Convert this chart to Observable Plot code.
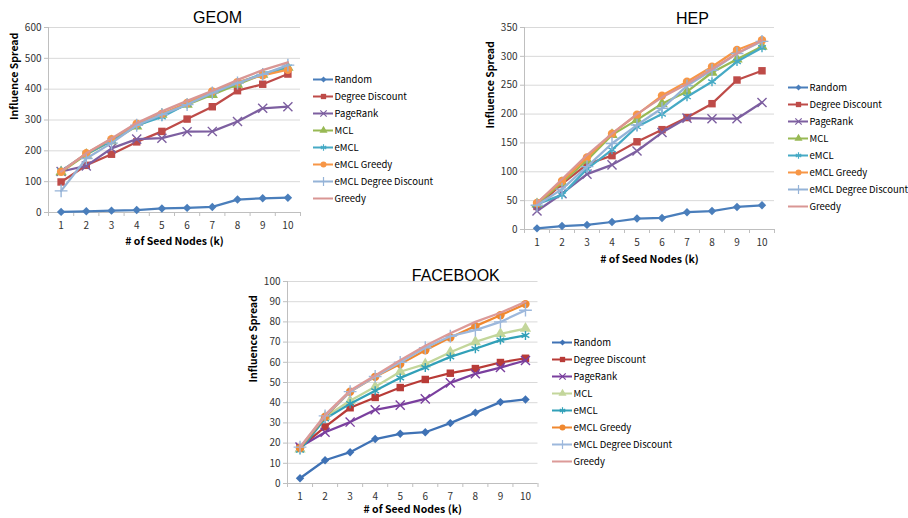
<!DOCTYPE html>
<html><head><meta charset="utf-8">
<script src="https://cdn.jsdelivr.net/npm/d3@7"></script>
<script src="https://cdn.jsdelivr.net/npm/@observablehq/plot@0.6"></script>
<style>
body{margin:0;background:#fff;}
#root{position:relative;width:908px;height:518px;overflow:hidden;background:#fff;}
#root svg{position:absolute;overflow:visible;}
</style></head><body><div id="root"></div>
<script>
// ---------- data ----------
const seedNodes = [1, 2, 3, 4, 5, 6, 7, 8, 9, 10];
const seriesNames = ["Random", "Degree Discount", "PageRank", "MCL", "eMCL", "eMCL Greedy", "eMCL Degree Discount", "Greedy"];
const seriesSymbols = ["diamond", "square", "times", "triangle", "asterisk", "circle", "plus", null];
const colorsMain = ["#4a7ebb", "#be4b48", "#7d5fa0", "#98b954", "#46aac5", "#f79646", "#95b3d7", "#d99694"];
const colorsFacebook = ["#3f72b5", "#b83b37", "#7a3f9e", "#c3d69b", "#31a0b8", "#f0882f", "#9db8dc", "#dc9a98"];

const geomRandom = [2, 4, 6, 8, 13, 15, 18, 42, 46, 48];
const geomDegreeDiscount = [99, 153, 189, 229, 263, 303, 343, 395, 416, 449];
const geomPageRank = [133, 151, 208, 238, 241, 262, 263, 295, 338, 343];
const geomMCL = [131, 188, 232, 280, 318, 350, 382, 415, 448, 470];
const geomEMCL = [135, 190, 233, 282, 310, 352, 388, 420, 450, 472];
const geomEMCLGreedy = [132, 192, 238, 288, 320, 355, 393, 423, 445, 463];
const geomEMCLDegreeDiscount = [70, 175, 225, 283, 318, 350, 388, 420, 448, 478];
const geomGreedy = [133, 192, 240, 290, 328, 362, 395, 430, 462, 487];
const geomTicks = [0, 100, 200, 300, 400, 500, 600];

const hepRandom = [2, 6, 8, 13, 19, 20, 30, 32, 39, 42];
const hepDegreeDiscount = [40, 79, 113, 128, 152, 173, 194, 218, 259, 275];
const hepPageRank = [32, 62, 96, 112, 136, 168, 193, 192, 192, 220];
const hepMCL = [44, 81, 120, 164, 190, 218, 239, 272, 295, 317];
const hepEMCL = [44, 60, 105, 138, 178, 200, 230, 256, 291, 315];
const hepEMCLGreedy = [46, 84, 125, 166, 199, 232, 256, 282, 311, 328];
const hepEMCLDegreeDiscount = [42, 70, 109, 149, 181, 210, 249, 276, 305, 326];
const hepGreedy = [46, 87, 129, 166, 200, 229, 252, 278, 305, 328];
const hepTicks = [0, 50, 100, 150, 200, 250, 300, 350];

const fbRandom = [2.6, 11.5, 15.5, 22, 24.6, 25.4, 29.9, 35.1, 40.3, 41.6];
const fbDegreeDiscount = [17.8, 28, 37.5, 42.6, 47.5, 51.5, 54.6, 56.9, 59.9, 62];
const fbPageRank = [18, 25.4, 30.4, 36.5, 38.8, 41.9, 49.8, 54.3, 57.4, 60.9];
const fbMCL = [17, 33, 41, 47.9, 55.3, 59.1, 65, 70.1, 74.1, 76.7];
const fbEMCL = [16.5, 32, 39.5, 45.9, 52.3, 57.4, 62.7, 66.7, 71, 73.3];
const fbEMCLGreedy = [17.5, 33, 45.4, 52.8, 59.1, 66, 72.3, 77.9, 83.3, 88.8];
const fbEMCLDegreeDiscount = [18, 33.5, 45.5, 53, 60, 67.2, 72.9, 75.9, 80, 85.8];
const fbGreedy = [18, 34, 46, 53.5, 61, 68.2, 74.4, 80, 84.5, 90];
const fbTicks = [0, 10, 20, 30, 40, 50, 60, 70, 80, 90, 100];

// ---------- drawing ----------
const root = document.getElementById("root");
const FONT = "'Noto Sans CJK KR', 'Noto Sans', sans-serif";
const strokeSymbols = new Set(["times", "asterisk", "plus"]);
// Excel-style diamond (a square turned 45 degrees)
const excelDiamond = {
  draw(context, size) {
    const a = Math.sqrt(size / Math.PI);
    context.moveTo(0, -a);
    context.lineTo(a, 0);
    context.lineTo(0, a);
    context.lineTo(-a, 0);
    context.closePath();
  }
};
function symbolOf(s) { return s === "diamond" ? excelDiamond : s; }

function seriesMarks(values, colors, r) {
  const marks = [];
  values.forEach((vals, i) => {
    const rows = seedNodes.map((k, j) => ({k, v: vals[j]}));
    marks.push(Plot.line(rows, {x: "k", y: "v", stroke: colors[i], strokeWidth: 2.25}));
    const s = seriesSymbols[i];
    if (s) {
      const isStroke = strokeSymbols.has(s);
      marks.push(Plot.dot(rows, {
        x: "k", y: "v", symbol: symbolOf(s), r: r,
        fill: isStroke ? "none" : colors[i],
        stroke: isStroke ? colors[i] : "none",
        strokeWidth: isStroke ? 1.4 : 0
      }));
    }
  });
  return marks;
}

function panel(cfg) {
  const {title, values, colors, ticks, frame, titleDy, xTitleDy} = cfg;
  const mL = 50, mR = 10, mT = 30, mB = 40;
  const w = (frame.x1 - frame.x0) + mL + mR;
  const h = (frame.y1 - frame.y0) + mT + mB;
  const boundaries = d3.range(0.5, 11, 1);
  const chart = Plot.plot({
    width: w, height: h,
    marginLeft: mL, marginRight: mR, marginTop: mT, marginBottom: mB,
    style: {fontFamily: FONT, fontSize: "10px", background: "transparent", overflow: "visible"},
    x: {domain: [0.5, 10.5]},
    y: {domain: [0, ticks[ticks.length - 1]]},
    marks: [
      Plot.gridY(ticks.slice(1), {stroke: "#d9d9d9", strokeOpacity: 1, strokeWidth: 1}),
      Plot.ruleX([0.5], {stroke: "#bfbfbf", strokeWidth: 1}),
      Plot.ruleY([0], {stroke: "#bfbfbf", strokeWidth: 1}),
      Plot.axisY({ticks, tickSize: 4, tickPadding: 3, stroke: "#bfbfbf", fill: "#333", label: null, fontSize: 10}),
      Plot.axisX({ticks: boundaries, tickSize: 4, tickFormat: () => "", stroke: "#bfbfbf", label: null}),
      Plot.axisX({ticks: seedNodes, tickSize: 0, tickPadding: 9, fill: "#333", label: null, fontSize: 10}),
      ...seriesMarks(values, colors, 4.2),
      Plot.text([title], {frameAnchor: "top", lineAnchor: "middle", dx: 43, dy: titleDy, fontSize: 16, fontFamily: "'Liberation Sans', Arial, sans-serif", fill: "#000"}),
      Plot.text(["Influence Spread"], {frameAnchor: "left", lineAnchor: "middle", rotate: -90, dx: -34, fontSize: 10.5, fontWeight: "bold", fill: "#000"}),
      Plot.text(["# of Seed Nodes (k)"], {frameAnchor: "bottom", lineAnchor: "middle", dy: xTitleDy, fontSize: 10.5, fontWeight: "bold", fill: "#000"})
    ]
  });
  chart.style.left = (frame.x0 - mL) + "px";
  chart.style.top = (frame.y0 - mT) + "px";
  root.appendChild(chart);

  // legend
  const lg = cfg.legend;
  const rowH = 17.8;
  const lh = rowH * 7 + 20;
  const legendMarks = [];
  seriesNames.forEach((name, i) => {
    legendMarks.push(Plot.ruleY([name], {y: d => d, x1: 0, x2: 20, stroke: colors[i], strokeWidth: 2}));
    const s = seriesSymbols[i];
    if (s) {
      const isStroke = strokeSymbols.has(s);
      legendMarks.push(Plot.dot([name], {x: () => 10, y: d => d, symbol: symbolOf(s), r: 3,
        fill: isStroke ? "none" : colors[i], stroke: isStroke ? colors[i] : "none", strokeWidth: isStroke ? 1.2 : 0}));
    }
  });
  legendMarks.push(Plot.text(seriesNames, {x: () => 21, y: d => d, text: d => d, textAnchor: "start", lineAnchor: "middle", fontSize: 9.5, fill: "#000"}));
  const legend = Plot.plot({
    width: 130, height: lh,
    margin: 0,
    style: {fontFamily: FONT, background: "transparent", overflow: "visible"},
    x: {domain: [0, 130], range: [0, 130], axis: null},
    y: {type: "point", domain: seriesNames, range: [10, 10 + rowH * 7], padding: 0, axis: null},
    marks: legendMarks
  });
  legend.style.left = lg.x + "px";
  legend.style.top = (lg.y - 10) + "px";
  root.appendChild(legend);
}

panel({
  title: "GEOM",
  values: [geomRandom, geomDegreeDiscount, geomPageRank, geomMCL, geomEMCL, geomEMCLGreedy, geomEMCLDegreeDiscount, geomGreedy],
  colors: colorsMain, ticks: geomTicks,
  frame: {x0: 48, x1: 300, y0: 27, y1: 212}, titleDy: -10, xTitleDy: 29.5,
  legend: {x: 313, y: 76}
});
panel({
  title: "HEP",
  values: [hepRandom, hepDegreeDiscount, hepPageRank, hepMCL, hepEMCL, hepEMCLGreedy, hepEMCLDegreeDiscount, hepGreedy],
  colors: colorsMain, ticks: hepTicks,
  frame: {x0: 524, x1: 774, y0: 26.7, y1: 228.7}, titleDy: -9, xTitleDy: 30,
  legend: {x: 788, y: 84.3}
});
panel({
  title: "FACEBOOK",
  values: [fbRandom, fbDegreeDiscount, fbPageRank, fbMCL, fbEMCL, fbEMCLGreedy, fbEMCLDegreeDiscount, fbGreedy],
  colors: colorsFacebook, ticks: fbTicks,
  frame: {x0: 287, x1: 537.5, y0: 281.3, y1: 483.3}, titleDy: -6, xTitleDy: 26.5,
  legend: {x: 552, y: 339.3}
});
</script></body></html>
